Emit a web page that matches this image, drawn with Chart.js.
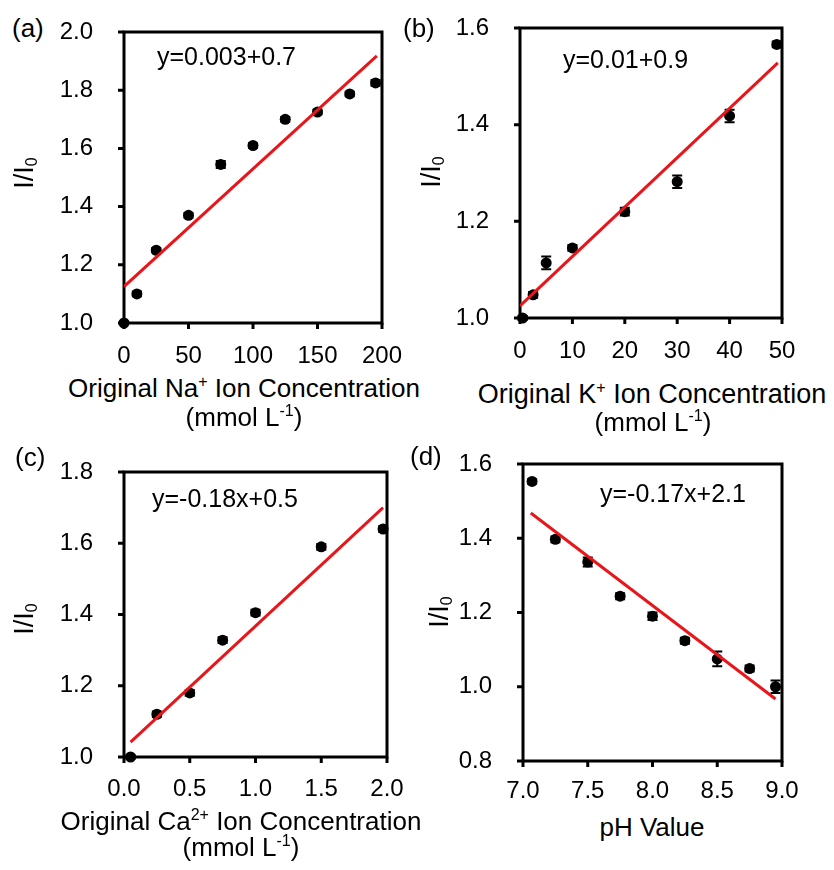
<!DOCTYPE html>
<html>
<head>
<meta charset="utf-8">
<script src="https://cdn.jsdelivr.net/npm/chart.js@4.4.0/dist/chart.umd.min.js"></script>
<style>
  body { margin: 0; background: #fff; }
  #fig { position: relative; width: 834px; height: 870px; overflow: hidden; font-family: "Liberation Sans", Arial, sans-serif; color: #000; }
  #fig canvas { position: absolute; }
  .t { position: absolute; line-height: 1; white-space: nowrap; }
  .c { transform: translateX(-50%); }
  .sup { font-size: 16px; position: relative; top: -10px; }
  .yt { font-size: 27px; transform: translate(-50%, -50%) rotate(-90deg); }
  .sub { font-size: 16px; position: relative; top: 4px; }
</style>
</head>
<body>
<div id="fig">
  <canvas id="chartA"></canvas>
  <canvas id="chartB"></canvas>
  <canvas id="chartC"></canvas>
  <canvas id="chartD"></canvas>

  <div class="t" style="font-size:26px;left:12px;top:15px">(a)</div>
  <div class="t" style="font-size:26px;left:403px;top:15px">(b)</div>
  <div class="t" style="font-size:26px;left:15px;top:444px">(c)</div>
  <div class="t" style="font-size:26px;left:410px;top:443px">(d)</div>

  <div class="t" style="font-size:25px;left:157px;top:44px">y=0.003+0.7</div>
  <div class="t" style="font-size:25px;left:563px;top:47px">y=0.01+0.9</div>
  <div class="t" style="font-size:25px;left:152px;top:486px">y=-0.18x+0.5</div>
  <div class="t" style="font-size:25px;left:600px;top:481px">y=-0.17x+2.1</div>

  <div class="t c" style="font-size:26px;left:244px;top:375px">Original Na<span class="sup">+</span> Ion Concentration</div>
  <div class="t c" style="font-size:26px;left:244px;top:404px">(mmol L<span class="sup">-1</span>)</div>
  <div class="t c" style="font-size:27px;left:652px;top:381px">Original K<span class="sup">+</span> Ion Concentration</div>
  <div class="t c" style="font-size:26px;left:653px;top:409px">(mmol L<span class="sup">-1</span>)</div>
  <div class="t c" style="font-size:26px;left:241px;top:808px">Original Ca<span class="sup">2+</span> Ion Concentration</div>
  <div class="t c" style="font-size:26px;left:241px;top:834px">(mmol L<span class="sup">-1</span>)</div>
  <div class="t c" style="font-size:26px;left:652px;top:814px">pH Value</div>

  <div class="t yt" style="left:24px;top:173px">I/I<span class="sub">0</span></div>
  <div class="t yt" style="left:431px;top:172px">I/I<span class="sub">0</span></div>
  <div class="t yt" style="left:24px;top:619px">I/I<span class="sub">0</span></div>
  <div class="t yt" style="left:439px;top:612px">I/I<span class="sub">0</span></div>
</div>
<script>
// (a) Na+
const naX = [0, 10, 25, 50, 75, 100, 125, 150, 175, 195];
const naY = [1.00, 1.10, 1.25, 1.37, 1.545, 1.61, 1.70, 1.725, 1.787, 1.825];
const naErr = [0.005, 0.008, 0.008, 0.008, 0.012, 0.008, 0.008, 0.008, 0.008, 0.01];
const naFitX = [0, 196];
const naFitY = [1.125, 1.918];
const naXRange = [0, 200, 50];
const naYRange = [1.0, 2.0, 0.2];

// (b) K+
const kX = [0.5, 2.5, 5, 10, 20, 30, 40, 49];
const kY = [1.0, 1.048, 1.114, 1.145, 1.22, 1.282, 1.418, 1.566];
const kErr = [0.004, 0.006, 0.013, 0.006, 0.008, 0.013, 0.013, 0.006];
const kFitX = [0, 49.2];
const kFitY = [1.025, 1.528];
const kXRange = [0, 50, 10];
const kYRange = [1.0, 1.6, 0.2];

// (c) Ca2+
const caX = [0.05, 0.25, 0.5, 0.75, 1.0, 1.5, 1.97];
const caY = [1.0, 1.12, 1.18, 1.328, 1.405, 1.59, 1.64];
const caErr = [0.005, 0.008, 0.008, 0.008, 0.008, 0.008, 0.008];
const caFitX = [0.05, 1.97];
const caFitY = [1.042, 1.70];
const caXRange = [0, 2, 0.5];
const caYRange = [1.0, 1.8, 0.2];

// (d) pH
const phX = [7.07, 7.25, 7.5, 7.75, 8.0, 8.25, 8.5, 8.75, 8.95];
const phY = [1.553, 1.397, 1.336, 1.244, 1.19, 1.124, 1.075, 1.049, 1.0];
const phErr = [0.006, 0.008, 0.012, 0.008, 0.01, 0.008, 0.02, 0.008, 0.017];
const phFitX = [7.06, 8.95];
const phFitY = [1.468, 0.967];
const phXRange = [7, 9, 0.5];
const phYRange = [0.8, 1.6, 0.2];

// canvas margins round the plot area (top must beat the y-label overflow)
const PAD_L = 80, PAD_T = 42, PAD_R = 40, PAD_B = 50;
const TICK = 6;

Chart.defaults.font.family = '"Liberation Sans", Arial, sans-serif';
Chart.defaults.color = '#000';

// outward tick marks and error bars, placed through the scales
const panelDeco = {
    id: 'panelDeco',
    beforeDatasetsDraw(chart) {
        const ctx = chart.ctx;
        const xs = chart.scales.x, ys = chart.scales.y;
        const left = xs.left, bottom = ys.bottom;
        ctx.save();
        ctx.strokeStyle = '#000';
        ctx.lineWidth = 3;
        ctx.beginPath();
        xs.ticks.forEach((t) => {
            const px = xs.getPixelForValue(t.value);
            ctx.moveTo(px, bottom);
            ctx.lineTo(px, bottom + TICK);
        });
        ys.ticks.forEach((t) => {
            const py = ys.getPixelForValue(t.value);
            ctx.moveTo(left, py);
            ctx.lineTo(left - TICK, py);
        });
        ctx.stroke();

        ctx.lineWidth = 2;
        chart.data.datasets.forEach((ds) => {
            if (!ds.errors) return;
            ctx.beginPath();
            ds.data.forEach((p, i) => {
                const px = xs.getPixelForValue(p.x);
                const hi = ys.getPixelForValue(p.y + ds.errors[i]);
                const lo = ys.getPixelForValue(p.y - ds.errors[i]);
                ctx.moveTo(px, hi); ctx.lineTo(px, lo);
                ctx.moveTo(px - 5, hi); ctx.lineTo(px + 5, hi);
                ctx.moveTo(px - 5, lo); ctx.lineTo(px + 5, lo);
            });
            ctx.stroke();
        });
        ctx.restore();
    }
};

function toPoints(xs, ys) {
    return xs.map((x, i) => ({ x: x, y: ys[i] }));
}

// the plot box as a closed line through the four axis corners
function boxPoints(xr, yr) {
    return [
        { x: xr[0], y: yr[0] }, { x: xr[1], y: yr[0] },
        { x: xr[1], y: yr[1] }, { x: xr[0], y: yr[1] },
        { x: xr[0], y: yr[0] }
    ];
}

function axis(r, dec, pad, isX) {
    return {
        type: 'linear',
        position: isX ? 'bottom' : 'left',
        min: r[0],
        max: r[1],
        ticks: {
            stepSize: r[2],
            padding: pad,
            autoSkip: false,
            maxRotation: 0,
            crossAlign: 'near',
            font: { size: 24 },
            color: '#000',
            callback: (v) => Number(v).toFixed(dec)
        },
        grid: { display: false, drawTicks: true, tickLength: TICK },
        border: { display: false },
        afterFit: (s) => {
            if (isX) s.height = PAD_B; else s.width = PAD_L;
        }
    };
}

function makePanel(id, area, xs, ys, errs, fitX, fitY, xr, yr, xDec, xPad) {
    const canvas = document.getElementById(id);
    canvas.width = area.r - area.l + PAD_L + PAD_R;
    canvas.height = area.b - area.t + PAD_T + PAD_B;
    canvas.style.left = (area.l - PAD_L) + 'px';
    canvas.style.top = (area.t - PAD_T) + 'px';

    return new Chart(canvas, {
        type: 'scatter',
        data: {
            datasets: [
                {
                    data: boxPoints(xr, yr),
                    showLine: true,
                    borderColor: '#000',
                    borderWidth: 3,
                    pointRadius: 0,
                    clip: false,
                    order: 2
                },
                {
                    data: toPoints(fitX, fitY),
                    showLine: true,
                    borderColor: '#e8161b',
                    borderWidth: 3,
                    pointRadius: 0,
                    order: 0
                },
                {
                    data: toPoints(xs, ys),
                    errors: errs,
                    backgroundColor: '#000',
                    borderWidth: 0,
                    pointRadius: 5.5,
                    clip: false,
                    order: 1
                }
            ]
        },
        options: {
            responsive: false,
            animation: false,
            devicePixelRatio: 1,
            layout: { padding: { top: PAD_T, right: PAD_R, left: 0, bottom: 0 } },
            plugins: { legend: { display: false }, tooltip: { enabled: false } },
            scales: {
                x: axis(xr, xDec, xPad, true),
                y: axis(yr, 1, 25, false)
            }
        },
        plugins: [panelDeco]
    });
}

makePanel('chartA', { l: 124, t: 32, r: 382, b: 323 }, naX, naY, naErr, naFitX, naFitY, naXRange, naYRange, 0, 13);
makePanel('chartB', { l: 520, t: 28, r: 782, b: 318 }, kX, kY, kErr, kFitX, kFitY, kXRange, kYRange, 0, 13);
makePanel('chartC', { l: 124, t: 472, r: 387, b: 757 }, caX, caY, caErr, caFitX, caFitY, caXRange, caYRange, 1, 12);
makePanel('chartD', { l: 523, t: 464, r: 782, b: 761 }, phX, phY, phErr, phFitX, phFitY, phXRange, phYRange, 1, 10);
</script>
</body>
</html>
